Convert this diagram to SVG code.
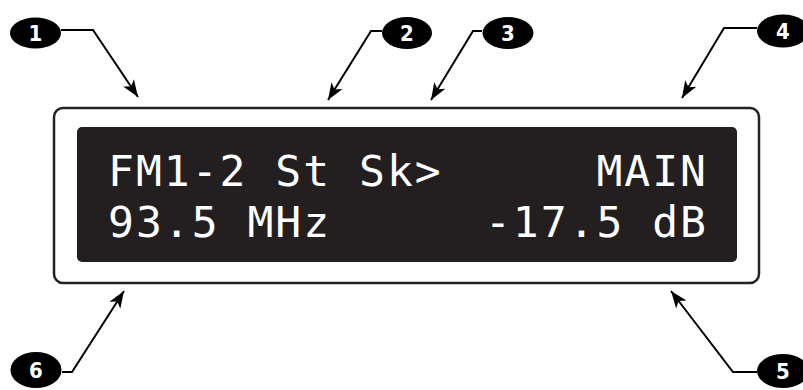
<svg xmlns="http://www.w3.org/2000/svg" width="803" height="390" viewBox="0 0 803 390">
<defs>
<style>
.callout ellipse{fill:#000}
.callout text{fill:#fff;font-family:"DejaVu Sans Condensed","DejaVu Sans",sans-serif;font-weight:bold;font-size:22px;text-anchor:middle}
.lead{fill:none;stroke:#000;stroke-width:2;marker-end:url(#ah)}
.lcd{fill:#fff;font-family:"DejaVu Sans Mono",monospace;font-size:43px;letter-spacing:2px}
</style>
<marker id="ah" viewBox="-18 -8 20 16" markerWidth="20" markerHeight="16" refX="0" refY="0" orient="auto" markerUnits="userSpaceOnUse">
<path d="M0,0 L-17,-6.5 L-12.5,0 L-17,6.5 Z" fill="#000"/>
</marker>
</defs>
<g id="display">
<rect x="54" y="108" width="705" height="175" rx="9" fill="#fff" stroke="#222" stroke-width="2.5"/>
<rect x="77" y="127" width="660" height="135" rx="5" fill="#231f20"/>
<text class="lcd" x="108" y="186">FM1-2 St Sk&gt;</text>
<text class="lcd" x="708" y="186" text-anchor="end">MAIN</text>
<text class="lcd" x="108" y="237">93.5 MHz</text>
<text class="lcd" x="708" y="237" text-anchor="end">-17.5 dB</text>
</g>
<g id="connectors">
<path class="lead" d="M61,30 H93 L138,97"/>
<path class="lead" d="M382,31 H371 L328,100"/>
<path class="lead" d="M482,31 H473 L431,100"/>
<path class="lead" d="M757,28 H724 L682,98"/>
<path class="lead" d="M757,372 H733 L671,291"/>
<path class="lead" d="M62,372 H72 L124,291"/>
</g>
<g id="c1" class="callout"><ellipse cx="35.5" cy="33" rx="25.5" ry="15.5"/><text x="35.5" y="41">1</text></g>
<g id="c2" class="callout"><ellipse cx="407" cy="33" rx="25" ry="16"/><text x="407" y="41">2</text></g>
<g id="c3" class="callout"><ellipse cx="508" cy="33" rx="25.5" ry="16"/><text x="508" y="41">3</text></g>
<g id="c4" class="callout"><ellipse cx="783" cy="31" rx="26" ry="16.5"/><text x="783" y="39">4</text></g>
<g id="c5" class="callout"><ellipse cx="783" cy="371" rx="26" ry="17"/><text x="783" y="379">5</text></g>
<g id="c6" class="callout"><ellipse cx="36" cy="370" rx="25.5" ry="18"/><text x="36" y="378">6</text></g>
</svg>
